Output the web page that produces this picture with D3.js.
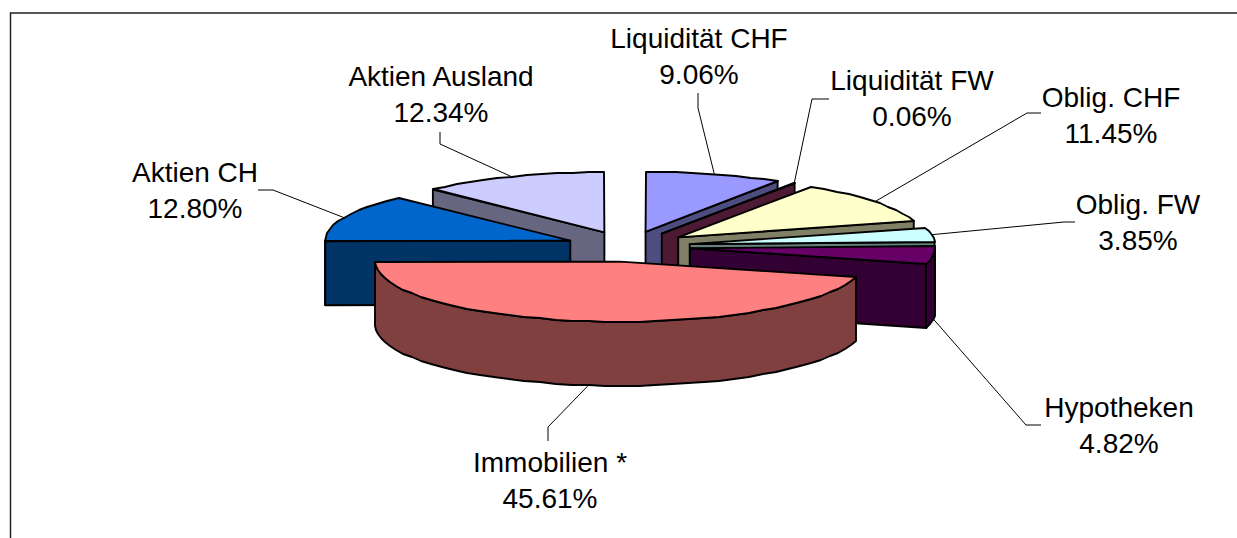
<!DOCTYPE html>
<html>
<head>
<meta charset="utf-8">
<script src="https://cdn.jsdelivr.net/npm/d3@7"></script>
<style>
html, body { margin: 0; padding: 0; background: #fff; }
svg { display: block; }
text { font-family: "Liberation Sans", Arial, sans-serif; font-size: 28px; fill: #000; }
</style>
</head>
<body>
<div id="chart"></div>
<script>
const categories = ["Liquidität CHF", "Liquidität FW", "Oblig. CHF", "Oblig. FW", "Hypotheken", "Immobilien *", "Aktien CH", "Aktien Ausland"];
const shares = [9.06, 0.06, 11.45, 3.85, 4.82, 45.61, 12.80, 12.34];
const colors = ["#9999ff", "#993366", "#ffffcc", "#ccffff", "#660066", "#ff8080", "#0066cc", "#ccccff"];

// label centre + elbow of the leader line, same order as categories
const labelX = [699, 912, 1111, 1138, 1119, 550, 195, 441];
const labelY = [48, 90, 107, 214, 417, 472, 182, 86];
const elbows = [
    [[698, 108], [698, 93]],
    [[812, 99], [829, 99]],
    [[1027, 113], [1041, 113]],
    [[1064, 222], [1075, 222]],
    [[1026, 425], [1041, 425]],
    [[548, 427], [548, 441]],
    [[273, 190], [258, 190]],
    [[440, 144], [440, 132]]
];

const width = 1237, height = 538;
const cx = 628, cy = 246.5;   // pie centre before the slices are pulled apart
const rx = 245, ry = 60;      // ellipse of the top face
const depth = 64;
const explode = 0.255;
const lineH = 36;

const svg = d3.select("#chart").append("svg")
    .attr("width", width)
    .attr("height", height);

// frame, only top and left are in the picture
svg.append("path")
    .attr("d", "M10.5," + height + "V13H" + width)
    .attr("fill", "none")
    .attr("stroke", "#222")
    .attr("stroke-width", 1.5);

const slices = d3.pie().sort(null).value(d => d)(shares).map((d, i) => {
    const mid = (d.startAngle + d.endAngle) / 2;
    return {
        i: i,
        a0: d.startAngle,
        a1: d.endAngle,
        mid: mid,
        ax: cx + rx * explode * Math.sin(mid),
        ay: cy - ry * explode * Math.cos(mid),
        top: colors[i],
        side: sideColor(colors[i])
    };
});

function sideColor(c) {
    const r = d3.rgb(c);
    return d3.rgb(r.r / 2, r.g / 2, r.b / 2).formatHex();
}

function rimPoint(s, a, dy = 0) {
    return [s.ax + rx * Math.sin(a), s.ay - ry * Math.cos(a) + dy];
}

// rounded so the rim gets the same slightly rough look as the original
function rimPoints(s, a0, a1, dy = 0) {
    const n = Math.max(1, Math.ceil((a1 - a0) / (4 * Math.PI / 180)));
    return d3.range(n + 1).map(k => rimPoint(s, a0 + (a1 - a0) * k / n, dy).map(Math.round));
}

const line = d3.line();

// back slices first, the big front slice last
const order = [0, 1, 2, 3, 4, 7, 6, 5];
const g = svg.append("g")
    .attr("stroke", "#000")
    .attr("stroke-width", 1.9)
    .attr("stroke-linejoin", "round");

order.forEach(i => {
    const s = slices[i];
    const apex = [s.ax, s.ay];
    const apexLow = [s.ax, s.ay + depth];

    // cut face at the slice start
    if (Math.sin(s.a0) < -0.001) {
        const p = rimPoint(s, s.a0);
        g.append("path").attr("fill", s.side)
            .attr("d", line([apex, p, [p[0], p[1] + depth], apexLow]) + "Z");
    }
    // cut face at the slice end
    if (Math.sin(s.a1) > 0.001) {
        const p = rimPoint(s, s.a1);
        g.append("path").attr("fill", s.side)
            .attr("d", line([apex, p, [p[0], p[1] + depth], apexLow]) + "Z");
    }
    // outer wall, only the part that faces the front
    const w0 = Math.max(s.a0, Math.PI / 2);
    const w1 = Math.min(s.a1, 3 * Math.PI / 2);
    if (w1 > w0) {
        const upper = rimPoints(s, w0, w1);
        const lower = rimPoints(s, w0, w1, depth).reverse();
        g.append("path").attr("fill", s.side)
            .attr("d", line(upper.concat(lower)) + "Z");
    }
    // top face
    g.append("path").attr("fill", s.top)
        .attr("d", line([apex].concat(rimPoints(s, s.a0, s.a1))) + "Z");
});

// leader lines start on the rim at the middle of the slice
slices.forEach(s => {
    const frontWall = Math.cos(s.mid) < 0;
    const start = rimPoint(s, s.mid, frontWall ? depth : 0);
    svg.append("path")
        .attr("fill", "none")
        .attr("stroke", "#000")
        .attr("stroke-width", 1)
        .attr("d", line([start].concat(elbows[s.i])));
});

categories.forEach((name, i) => {
    const t = svg.append("text")
        .attr("x", labelX[i])
        .attr("y", labelY[i])
        .attr("text-anchor", "middle");
    t.append("tspan").attr("x", labelX[i]).text(name);
    t.append("tspan").attr("x", labelX[i]).attr("dy", lineH).text(shares[i].toFixed(2) + "%");
});
</script>
</body>
</html>
